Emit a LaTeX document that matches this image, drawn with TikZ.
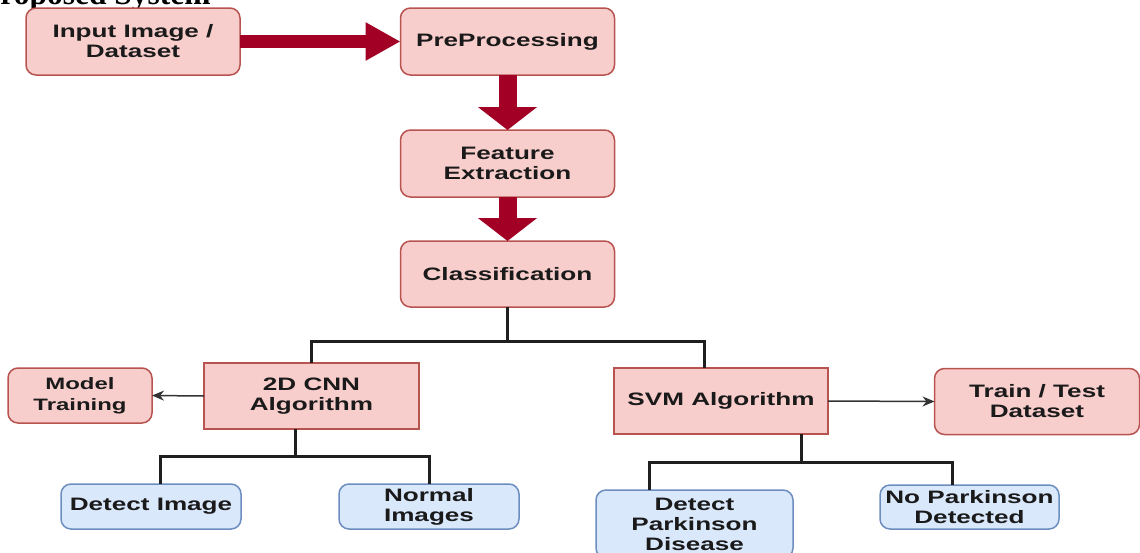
\documentclass[tikz,border=0pt]{standalone}
\usepackage{fontspec}
\usetikzlibrary{arrows.meta,calc}
\newfontfamily\lab[FakeStretch=1.45]{Liberation Sans}
\newfontfamily\ttl{Liberation Serif}
\definecolor{pinkfill}{HTML}{F8CECC}
\definecolor{pinkline}{HTML}{B85450}
\definecolor{bluefill}{HTML}{DAE8FC}
\definecolor{blueline}{HTML}{6C8EBF}
\definecolor{bigred}{HTML}{A20025}
\definecolor{txt}{HTML}{1A1A1A}
\definecolor{treeline}{HTML}{1F1F1F}
\definecolor{thinline}{HTML}{333333}
\tikzset{
  box/.style={draw, line width=1.5pt, inner sep=0pt, outer sep=0pt, align=center,
    text=txt, font=\lab\bfseries\fontsize{18}{20}\selectfont},
  pinkround/.style={box, fill=pinkfill, draw=pinkline, rounded corners=10pt},
  pinksq/.style={box, fill=pinkfill, draw=pinkline},
  blueround/.style={box, fill=bluefill, draw=blueline, rounded corners=10pt},
  tree/.style={draw=treeline, line width=3pt},
  thinarrow/.style={draw=thinline, line width=1.5pt, -{Stealth[length=12pt,width=10pt]}},
  bigh/.style={draw=bigred, line width=13pt, -{Triangle[length=35pt,width=36pt]}},
  bigv/.style={draw=bigred, line width=18pt, -{Triangle[length=23pt,width=58pt]}},
}
\begin{document}
\begin{tikzpicture}[x=1pt,y=-1pt]
\useasboundingbox (0,0) rectangle (1140,552);
\clip (0,0) rectangle (1140,552);
\fill[white] (0,0) rectangle (1140,552);
\node[anchor=base west, inner sep=0pt, font=\ttl\bfseries\fontsize{31.5}{34}\selectfont] (title) at (-19,4) {Proposed System};
% nodes
\node[pinkround, minimum width=214pt, minimum height=67pt] (inp) at (133,41.5) {Input Image /\\Dataset};
\node[pinkround, minimum width=214pt, minimum height=67pt] (pre) at (507.5,41.5) {PreProcessing};
\node[pinkround, minimum width=214pt, minimum height=67pt] (feat) at (507.5,163.5) {Feature\\Extraction};
\node[pinkround, minimum width=214pt, minimum height=66pt] (cls) at (507.5,274) {Classification};
\node[pinksq, minimum width=215pt, minimum height=66pt] (cnn) at (311.5,396) {2D CNN\\Algorithm};
\node[pinksq, minimum width=214pt, minimum height=66pt] (svm) at (721,401) {SVM Algorithm};
\node[pinkround, minimum width=144pt, minimum height=55pt, font=\lab\bfseries\fontsize{16.5}{21}\selectfont] (mt) at (80,395.5) {Model\\Training};
\node[pinkround, minimum width=205pt, minimum height=66pt] (tt) at (1037,401.5) {Train / Test\\Dataset};
\node[blueround, minimum width=180pt, minimum height=45pt] (di) at (151,506.5) {Detect Image};
\node[blueround, minimum width=180pt, minimum height=45pt] (ni) at (429,506.5) {Normal\\Images};
\node[blueround, minimum width=197pt, minimum height=68pt] (dp) at (694.5,524) {Detect\\Parkinson\\Disease};
\node[blueround, minimum width=179pt, minimum height=44pt] (np) at (969.5,507) {No Parkinson\\Detected};
% big arrows
\draw[bigh] (inp.east) -- (pre.west);
\draw[bigv] (pre.south) -- (feat.north);
\draw[bigv] (feat.south) -- (cls.north);
% tree connectors
\draw[tree] (cls.south) -- ++(0,34) coordinate (j1);
\draw[tree] (j1) -| (cnn.north);
\draw[tree] (j1) -| ([xshift=-17pt]svm.north);
\draw[tree] ([xshift=-16.5pt]cnn.south) -- ++(0,27) coordinate (j2);
\draw[tree] (j2) -| ([xshift=9pt]di.north);
\draw[tree] (j2) -| (ni.north);
\draw[tree] ([xshift=80pt]svm.south) -- ++(0,28) coordinate (j3);
\draw[tree] (j3) -| ([xshift=-45.5pt]dp.north);
\draw[tree] (j3) -| ([xshift=-17.5pt]np.north);
% thin arrows
\draw[thinarrow] (cnn.west) -- (mt.east);
\draw[thinarrow] (svm.east) -- (tt.west);
\end{tikzpicture}
\end{document}
